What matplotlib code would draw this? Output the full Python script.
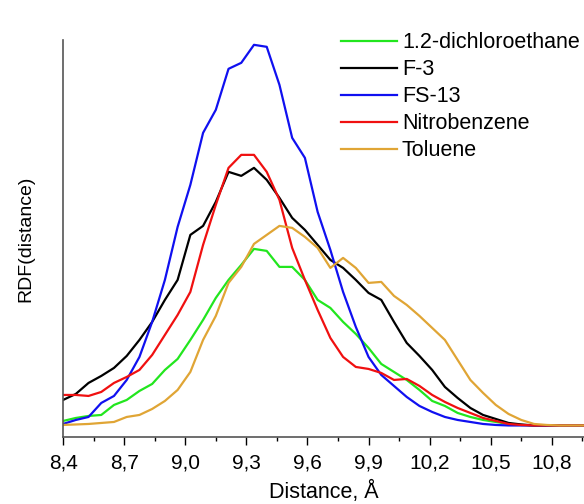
import matplotlib
matplotlib.use("Agg")
import matplotlib.pyplot as plt

plt.rcParams['font.family'] = ['Liberation Sans', 'DejaVu Sans']

# distance grid (A)
dist = [8.4000, 8.4625, 8.5250, 8.5875, 8.6500, 8.7125, 8.7750, 8.8375, 8.9000, 8.9625,
        9.0250, 9.0875, 9.1500, 9.2125, 9.2750, 9.3375, 9.4000, 9.4625, 9.5250, 9.5875,
        9.6500, 9.7125, 9.7750, 9.8375, 9.9000, 9.9625, 10.0250, 10.0875, 10.1500, 10.2125,
        10.2750, 10.3375, 10.4000, 10.4625, 10.5250, 10.5875, 10.6500, 10.7125, 10.7750,
        10.8375, 10.9000, 10.9625]

dce = [0.05, 0.08, 0.10, 0.11, 0.21, 0.26, 0.35, 0.42, 0.56, 0.67, 0.86, 1.06, 1.28, 1.46,
       1.61, 1.77, 1.75, 1.59, 1.59, 1.46, 1.26, 1.18, 1.04, 0.92, 0.78, 0.62, 0.54, 0.46,
       0.36, 0.25, 0.20, 0.13, 0.09, 0.06, 0.04, 0.02, 0.01, 0.005, 0.005, 0.005, 0.005, 0.005]
f3 = [0.26, 0.32, 0.43, 0.50, 0.58, 0.70, 0.86, 1.04, 1.26, 1.46, 1.91, 2.00, 2.24, 2.54,
      2.50, 2.58, 2.46, 2.28, 2.08, 1.96, 1.81, 1.66, 1.58, 1.46, 1.33, 1.26, 1.04, 0.83,
      0.70, 0.56, 0.39, 0.28, 0.18, 0.11, 0.07, 0.03, 0.015, 0.005, 0.005, 0.005, 0.005, 0.005]
fs13 = [0.02, 0.06, 0.09, 0.23, 0.30, 0.46, 0.69, 1.04, 1.46, 1.99, 2.41, 2.93, 3.16, 3.57,
        3.63, 3.81, 3.79, 3.41, 2.88, 2.68, 2.14, 1.76, 1.34, 0.99, 0.69, 0.51, 0.40, 0.29,
        0.20, 0.14, 0.09, 0.06, 0.04, 0.02, 0.01, 0.005, 0.005, 0.005, 0.005, 0.005, 0.005, 0.005]
nitro = [0.31, 0.31, 0.30, 0.34, 0.43, 0.49, 0.56, 0.71, 0.91, 1.11, 1.34, 1.81, 2.21, 2.58,
         2.71, 2.71, 2.54, 2.26, 1.78, 1.46, 1.16, 0.88, 0.69, 0.59, 0.57, 0.53, 0.46, 0.47,
         0.40, 0.31, 0.24, 0.18, 0.13, 0.08, 0.05, 0.02, 0.01, 0.005, 0.005, 0.005, 0.005, 0.005]
toluene = [0.01, 0.015, 0.02, 0.03, 0.04, 0.09, 0.11, 0.17, 0.25, 0.36, 0.54, 0.86, 1.10, 1.43,
           1.59, 1.82, 1.91, 2.00, 1.98, 1.89, 1.78, 1.58, 1.68, 1.58, 1.43, 1.44, 1.30, 1.21,
           1.10, 0.98, 0.86, 0.66, 0.46, 0.33, 0.21, 0.12, 0.06, 0.02, 0.01, 0.005, 0.005, 0.005]

series = [
    ("1.2-dichloroethane", dce, "#22e61e"),
    ("F-3", f3, "black"),
    ("FS-13", fs13, "#1010f0"),
    ("Nitrobenzene", nitro, "#f01010"),
    ("Toluene", toluene, "#e0a535"),
]

xticks = [8.4, 8.7, 9.0, 9.3, 9.6, 9.9, 10.2, 10.5, 10.8]
xticklabels = ["8,4", "8,7", "9,0", "9,3", "9,6", "9,9", "10,2", "10,5", "10,8"]

fig = plt.figure(figsize=(5.84, 5.04), dpi=100)
ax = fig.add_axes([0.108, 0.133, 0.892, 0.788])

for name, vals, col in series:
    ax.plot(dist, vals, color=col, lw=1.6, label=name)

ax.set_xlim(8.4, 10.958)
ax.set_ylim(-0.11, 3.86)

ax.set_xticks(xticks)
ax.set_xticklabels(xticklabels, fontsize=15)
ax.set_xticks([x + 0.15 for x in xticks], minor=True)
ax.tick_params(axis='x', which='major', direction='out', length=6, width=1, pad=6)
ax.tick_params(axis='x', which='minor', direction='out', length=3, width=1)
ax.set_yticks([])

for s in ['top', 'right']:
    ax.spines[s].set_visible(False)
for s in ['left', 'bottom']:
    ax.spines[s].set_color('#555555')
    ax.spines[s].set_linewidth(1.2)

ax.set_xlabel("Distance, Å", fontsize=15.5, labelpad=6)
ax.set_ylabel("RDF(distance)", fontsize=14, labelpad=21)

ax.legend(loc='upper right', bbox_to_anchor=(1.0, 1.03), frameon=False, fontsize=15.5,
          borderpad=0.0, borderaxespad=0.2,
          handlelength=2.6, handletextpad=0.25, labelspacing=0.28)

fig.savefig("out.png", dpi=100)
